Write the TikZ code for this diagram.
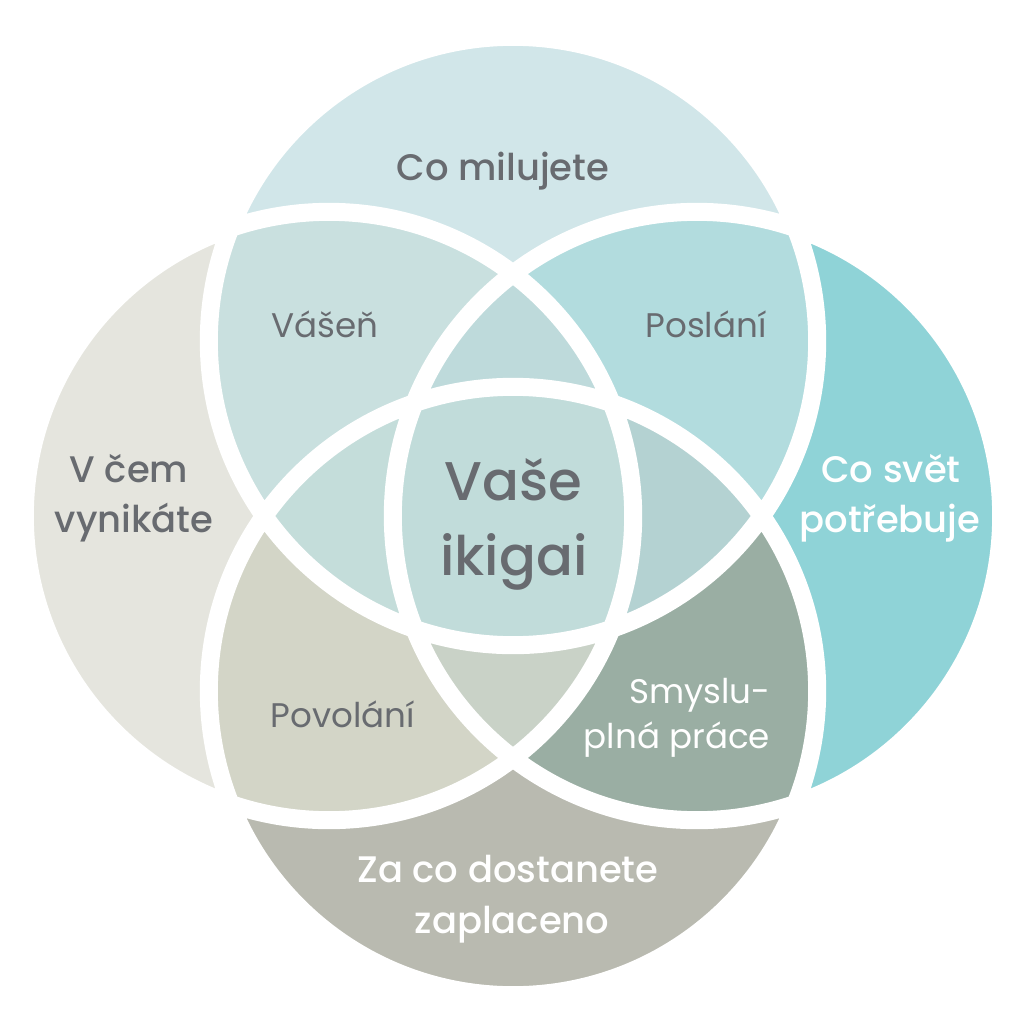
\documentclass[tikz,border=0pt]{standalone}
\usepackage{fontspec}
\setmainfont{Poppins}
\newfontfamily\popmed{Poppins}[UprightFont=* Medium]
\definecolor{cTop}{HTML}{D1E6E9}
\definecolor{cLeft}{HTML}{E5E5DE}
\definecolor{cRight}{HTML}{8FD3D7}
\definecolor{cBot}{HTML}{B9BAB0}
\definecolor{cTL}{HTML}{C9E0DF}
\definecolor{cTR}{HTML}{B2DCDE}
\definecolor{cBL}{HTML}{D3D5C7}
\definecolor{cBR}{HTML}{9AAEA3}
\definecolor{cTLR}{HTML}{BEDADB}
\definecolor{cTLB}{HTML}{C4DDDA}
\definecolor{cTRB}{HTML}{B4D2D2}
\definecolor{cLRB}{HTML}{C9D2C7}
\definecolor{cAll}{HTML}{C1DCDA}
\definecolor{txtgrey}{HTML}{686B70}
\begin{document}
\begin{tikzpicture}[x=0.01cm, y=-0.01cm, line join=round, line cap=round,
  main/.style={anchor=base, text=txtgrey, font=\popmed\fontsize{10.5}{14}\selectfont},
  sub/.style={anchor=base, text=txtgrey, font=\fontsize{9.7}{13}\selectfont},
  core/.style={anchor=base, text=txtgrey, font=\popmed\fontsize{15.5}{21}\selectfont}]
\def\rad{3.04cm}
\def\cT{(513,341) circle (\rad)}
\def\cL{(329,516) circle (\rad)}
\def\cR{(697,516) circle (\rad)}
\def\cB{(513,691) circle (\rad)}
\useasboundingbox (0,0) rectangle (1024,1024);
% one circle
\fill[cTop] \cT; \fill[cLeft] \cL; \fill[cRight] \cR; \fill[cBot] \cB;
% two circles
\begin{scope} \clip \cT; \fill[cTL] \cL; \fill[cTR] \cR; \end{scope}
\begin{scope} \clip \cB; \fill[cBL] \cL; \fill[cBR] \cR; \end{scope}
% three circles
\begin{scope} \clip \cT; \clip \cL; \fill[cTLR] \cR; \fill[cTLB] \cB; \end{scope}
\begin{scope} \clip \cB; \clip \cR; \fill[cTRB] \cT; \fill[cLRB] \cL; \end{scope}
% all four
\begin{scope} \clip \cT; \clip \cL; \clip \cR; \fill[cAll] \cB; \end{scope}
% white rims
\draw[white, line width=0.18cm] \cT \cL \cR \cB;
% labels
\node[main] (love) at (503,180) {Co milujete};
\node[main] (good1) at (129,482) {V čem};
\node[main] (good2) at (134,532) {vynikáte};
\node[main, text=white] (need1) at (891,482) {Co svět};
\node[main, text=white] (need2) at (890,532) {potřebuje};
\node[main, text=white] (paid1) at (508,882) {Za co dostanete};
\node[main, text=white] (paid2) at (512,933) {zaplaceno};
\node[sub] (passion) at (325,337) {Vášeň};
\node[sub] (mission) at (706,337) {Poslání};
\node[sub] (profession) at (343,727) {Povolání};
\node[sub, text=white] (vocation1) at (700,703) {Smyslu-};
\node[sub, text=white] (vocation2) at (677,748) {plná práce};
\node[core] (ikigai1) at (513,500) {Vaše};
\node[core] (ikigai2) at (514,575) {ikigai};
\end{tikzpicture}
\end{document}
